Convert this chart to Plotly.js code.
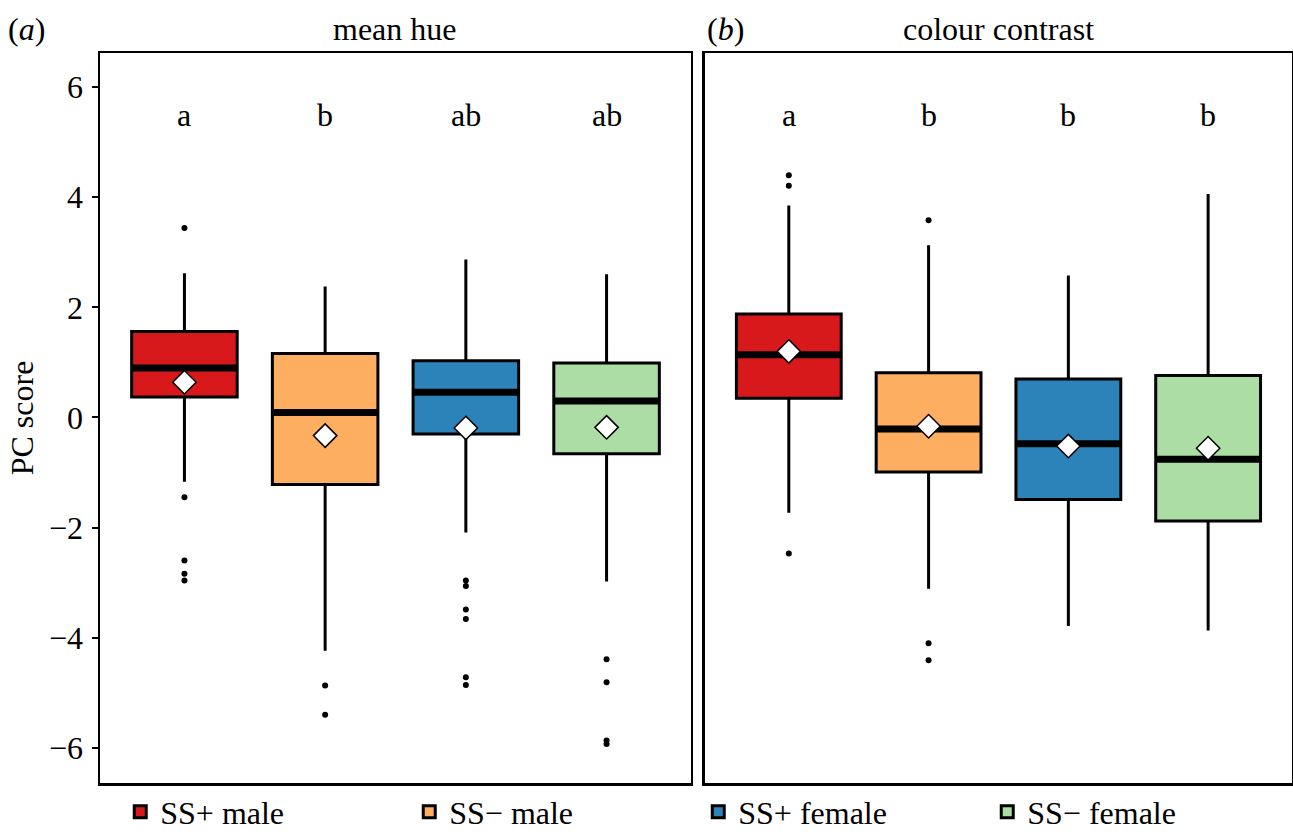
<!DOCTYPE html>
<html>
<head>
<meta charset="utf-8">
<script src="https://cdn.plot.ly/plotly-3.0.1.min.js"></script>
<style>html,body{margin:0;padding:0;background:#fff;}#chart{width:1293px;height:832px;}</style>
</head>
<body>
<div id="chart"></div>
<script>
// ---- data ----
const groups = ['SS+ male', 'SS\u2212 male', 'SS+ female', 'SS\u2212 female'];
const colors = ['#D7191C', '#FDAE61', '#2B83BA', '#ABDDA4'];
const positions = [0, 1, 2, 3];

// (a) mean hue
const hueQ1 = [0.37, -1.22, -0.30, -0.66];
const hueMedian = [0.90, 0.09, 0.46, 0.30];
const hueQ3 = [1.56, 1.16, 1.03, 0.99];
const hueLower = [-1.17, -4.24, -2.09, -2.98];
const hueUpper = [2.62, 2.38, 2.87, 2.60];
const hueMean = [0.64, -0.33, -0.19, -0.18];
const hueOutliers = [
  [3.44, -1.45, -2.60, -2.84, -2.96],
  [-4.87, -5.40],
  [-2.96, -3.06, -3.49, -3.66, -4.72, -4.86],
  [-4.39, -4.81, -5.87, -5.93]
];
const hueLetters = ['a', 'b', 'ab', 'ab'];

// (b) colour contrast
const conQ1 = [0.35, -0.99, -1.49, -1.88];
const conMedian = [1.14, -0.21, -0.48, -0.76];
const conQ3 = [1.88, 0.81, 0.70, 0.76];
const conLower = [-1.73, -3.11, -3.79, -3.87];
const conUpper = [3.85, 3.13, 2.58, 4.06];
const conMean = [1.20, -0.16, -0.52, -0.56];
const conOutliers = [
  [4.40, 4.21, -2.47],
  [3.58, -4.10, -4.41],
  [],
  []
];
const conLetters = ['a', 'b', 'b', 'b'];

const yTicks = [-6, -4, -2, 0, 2, 4, 6];

// ---- build ----
const FONT = 'Liberation Serif, Times New Roman, serif';
const FS = 32;
const BOXW = 0.75;
const traces = [];

function panel(xa, ya, q1, med, q3, lo, hi, mean, outs, showLegend) {
  groups.forEach((g, i) => {
    traces.push({
      type: 'box', xaxis: xa, yaxis: ya,
      x: [positions[i]], q1: [q1[i]], median: [med[i]], q3: [q3[i]],
      lowerfence: [lo[i]], upperfence: [hi[i]],
      width: BOXW, whiskerwidth: 0, boxpoints: false,
      fillcolor: colors[i], line: {color: '#000', width: 3},
      name: g, legendgroup: g, showlegend: showLegend, hoverinfo: 'skip'
    });
  });
  // thick median bars
  const mx = [], my = [];
  positions.forEach((p, i) => { mx.push(p - BOXW / 2, p + BOXW / 2, null); my.push(med[i], med[i], null); });
  traces.push({type: 'scatter', mode: 'lines', xaxis: xa, yaxis: ya, x: mx, y: my,
    line: {color: '#000', width: 7}, showlegend: false, hoverinfo: 'skip'});
  // outliers
  const ox = [], oy = [];
  outs.forEach((arr, i) => arr.forEach(v => { ox.push(positions[i]); oy.push(v); }));
  traces.push({type: 'scatter', mode: 'markers', xaxis: xa, yaxis: ya, x: ox, y: oy,
    marker: {color: '#000', size: 6}, showlegend: false, hoverinfo: 'skip'});
  // means
  traces.push({type: 'scatter', mode: 'markers', xaxis: xa, yaxis: ya, x: positions, y: mean,
    marker: {symbol: 'diamond', size: 18, color: '#fff', line: {color: '#000', width: 1.5}},
    showlegend: false, hoverinfo: 'skip'});
}
panel('x', 'y', hueQ1, hueMedian, hueQ3, hueLower, hueUpper, hueMean, hueOutliers, true);
panel('x2', 'y2', conQ1, conMedian, conQ3, conLower, conUpper, conMean, conOutliers, false);

const txtFont = {family: FONT, size: FS, color: '#000'};
const annotations = [];
hueLetters.forEach((t, i) => annotations.push({xref: 'x', yref: 'y', x: positions[i], y: 5.5, text: t,
  showarrow: false, font: txtFont}));
conLetters.forEach((t, i) => annotations.push({xref: 'x2', yref: 'y2', x: positions[i], y: 5.5, text: t,
  showarrow: false, font: txtFont}));
annotations.push({xref: 'x domain', yref: 'paper', x: 0.5, y: 1, yanchor: 'bottom', yshift: 4, text: 'mean hue',
  showarrow: false, font: txtFont});
annotations.push({xref: 'x2 domain', yref: 'paper', x: 0.5, y: 1, yanchor: 'bottom', yshift: 4, text: 'colour contrast',
  showarrow: false, font: txtFont});
annotations.push({xref: 'paper', yref: 'paper', x: -0.079, xanchor: 'left', y: 1, yanchor: 'bottom', yshift: 4, text: '(<i>a</i>)',
  showarrow: false, font: txtFont});
annotations.push({xref: 'x2 domain', yref: 'paper', x: 0, xanchor: 'left', y: 1, yanchor: 'bottom', yshift: 4, text: '(<i>b</i>)',
  showarrow: false, font: txtFont});

const axisX = {range: [-0.6, 3.6], showline: true, mirror: true, linecolor: '#000', linewidth: 2.5,
  showgrid: false, zeroline: false, showticklabels: false, ticks: '', fixedrange: true};
const layout = {
  width: 1293, height: 832,
  margin: {l: 100, r: 1, t: 53, b: 49, autoexpand: false},
  paper_bgcolor: '#fff', plot_bgcolor: '#fff',
  font: {family: FONT, color: '#000', size: FS},
  showlegend: true,
  legend: {orientation: 'h', xref: 'container', yref: 'container', x: 0.093, y: 0.024,
    xanchor: 'left', yanchor: 'middle', entrywidth: 244, entrywidthmode: 'pixels',
    font: {family: FONT, size: FS, color: '#000'}, bgcolor: 'rgba(0,0,0,0)', traceorder: 'normal'},
  xaxis: Object.assign({}, axisX, {domain: [0, 0.4958]}),
  xaxis2: Object.assign({}, axisX, {domain: [0.5075, 1], anchor: 'y2'}),
  yaxis: {range: [-6.64, 6.62], tickvals: yTicks, ticktext: yTicks.map(v => v < 0 ? '\u2212' + Math.abs(v) : String(v)),
    ticks: 'outside', ticklen: 6, tickwidth: 2, tickcolor: '#000', showline: true, mirror: true,
    linecolor: '#000', linewidth: 2.5, showgrid: false, zeroline: false, ticklabelstandoff: 2,
    tickfont: {family: FONT, size: FS, color: '#000'},
    title: {text: 'PC score', font: {family: FONT, size: FS, color: '#000'}, standoff: 6}},
  yaxis2: {range: [-6.64, 6.62], anchor: 'x2', matches: 'y', showline: true, mirror: true, linecolor: '#000', linewidth: 2.5,
    showgrid: false, zeroline: false, showticklabels: false, ticks: ''},
  annotations: annotations
};
Plotly.newPlot('chart', traces, layout, {staticPlot: true, displayModeBar: false});
</script>
</body>
</html>
